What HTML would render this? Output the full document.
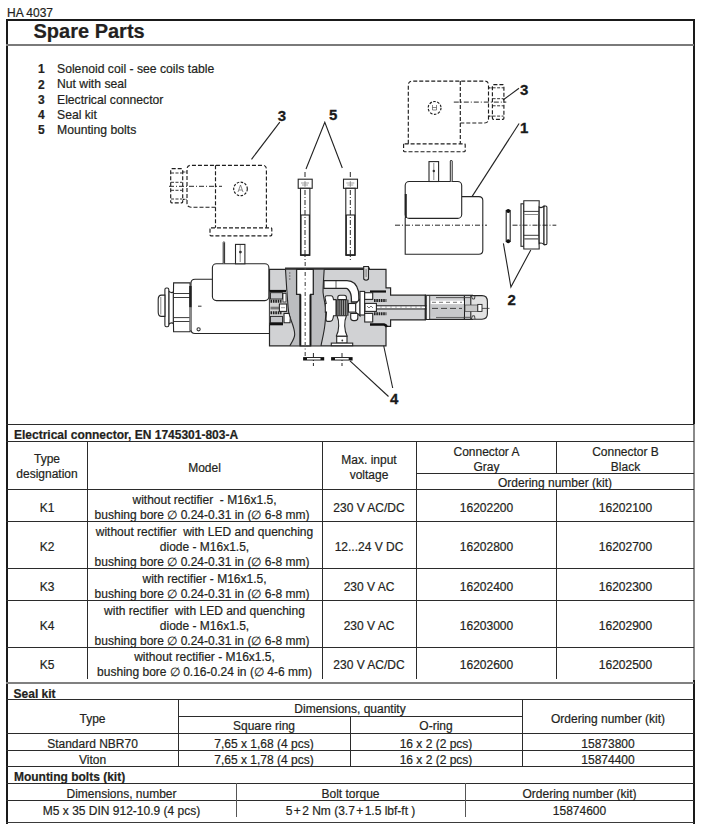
<!DOCTYPE html>
<html><head><meta charset="utf-8"><style>
html,body{margin:0;padding:0;background:#fff;}
body{width:701px;height:824px;position:relative;overflow:hidden;font-family:"Liberation Sans",sans-serif;color:#231f20;}
.t{position:absolute;line-height:16px;white-space:nowrap;text-align:center;-webkit-text-stroke:0.2px #231f20;}
.l{position:absolute;}
svg{position:absolute;left:0;top:0;}
</style></head><body>
<svg width="701" height="824" viewBox="0 0 701 824" style="position:absolute;left:0;top:0">
<defs>
<style>
.o{fill:none;stroke:#262626;stroke-width:1.1}
.w{fill:#fff;stroke:#262626;stroke-width:1.1}
.g{fill:#d1d2d4;stroke:#262626;stroke-width:1.2}
.gd{fill:#bcbdc0;stroke:none}
.d{fill:none;stroke:#1e1e1e;stroke-width:1.15;stroke-dasharray:4 2}
.dd{fill:none;stroke:#262626;stroke-width:1;stroke-dasharray:5 2 1 2}
.lead{fill:none;stroke:#222;stroke-width:1.1}
.lb{font-family:"Liberation Sans",sans-serif;font-weight:bold;font-size:15px;fill:#1a1a1a;stroke:#1a1a1a;stroke-width:0.3}
</style>
</defs>
<!-- labels -->
<text class="lb" x="277.8" y="120.8">3</text>
<text class="lb" x="329" y="120.4">5</text>
<text class="lb" x="520" y="95.3">3</text>
<text class="lb" x="520" y="133.1">1</text>
<text class="lb" x="507.5" y="305.2">2</text>
<text class="lb" x="390" y="404.2">4</text>
<!-- leaders -->
<path class="lead" d="M279.8,122.2 L251.5,159.3"/>
<path class="lead" d="M306,169 L324.8,122.3 L342.3,168"/>
<path class="lead" d="M503,100 L519,88.2"/>
<path class="lead" d="M519.1,123.5 L472,196.6"/>
<path class="lead" d="M503.4,243.4 L510.9,287 L530.8,249.9"/>
<path class="lead" d="M350,360.9 L388.5,396.5"/>
<path class="lead" d="M379.5,326 L392.7,388"/>

<!-- left dashed connector -->
<path class="d" d="M215.5,207.2 H191 Q187,207.2 187,203.2 V169.3 Q187,165.3 191,165.3 H262.4 Q266.4,165.3 266.4,169.3 V227.8"/>
<path class="d" d="M215.5,165.3 V227.8"/>
<rect class="d" x="210" y="227.8" width="61.8" height="8" rx="1"/>
<circle class="d" cx="240.5" cy="188.9" r="6.8" style="stroke-dasharray:2.5 1.5"/>
<path d="M238,192 L240.5,185 L243,192 M239,190 H242" fill="none" stroke="#555" stroke-width="0.7"/>
<path class="dd" d="M169,186.3 H222"/>
<rect class="d" x="170.7" y="168.6" width="12" height="34.2" rx="1"/>
<path class="d" d="M182.7,172 H186.5 M182.7,199.4 H186.5" style="stroke-dasharray:2 1"/>
<path class="d" d="M171,173 H182 M171,182.3 H182 M171,190.3 H182 M171,199 H182" style="stroke-width:0.9;stroke-dasharray:3 1.5"/>

<!-- right dashed connector -->
<path class="d" d="M460.3,123 H484.5 Q488.5,123 488.5,119 V85.1 Q488.5,81.1 484.5,81.1 H412.3 Q408.3,81.1 408.3,85.1 V143.8"/>
<path class="d" d="M460.3,81.1 V143.8"/>
<rect class="d" x="403.6" y="143.8" width="61.6" height="7.9" rx="1"/>
<circle class="d" cx="434.6" cy="107.9" r="6.4" style="stroke-dasharray:2.5 1.5"/>
<path d="M432.5,105 V110 H436.5 V105 M432.5,107.5 H436.5" fill="none" stroke="#555" stroke-width="0.7"/>
<path class="dd" d="M453.8,102.1 H506.3"/>
<rect class="d" x="492.4" y="84.6" width="11.5" height="34.7" rx="1"/>
<path class="d" d="M488.5,87.8 H492.4 M488.5,116.1 H492.4" style="stroke-dasharray:2 1"/>
<path class="d" d="M492.6,87.8 H503.6 M492.6,98.7 H503.6 M492.6,105.8 H503.6 M492.6,116.1 H503.6" style="stroke-width:0.9;stroke-dasharray:3 1.5"/>

<!-- bolts -->
<g id="bolt1">
<path class="dd" d="M305,172 V260"/>
<rect class="w" x="298.2" y="179.2" width="14" height="9.1"/>
<path d="M301,183 H309 M302,185 H308 M305,181 V187" stroke="#666" stroke-width="0.6" fill="none"/>
<rect class="w" x="300.5" y="188.3" width="9.4" height="67"/>
<path d="M300.5,215 H309.9" stroke="#262626" stroke-width="1.1"/>
<path d="M301,215 V255 M309.4,215 V255" stroke="#262626" stroke-width="1.2"/><path d="M300.5,255 H309.9" stroke="#222" stroke-width="1.6"/>
<path class="dd" d="M305,190 V255"/>
</g>
<g transform="translate(45.3,0)">
<path class="dd" d="M305,172 V260"/>
<rect class="w" x="298.2" y="179.2" width="14" height="9.1"/>
<path d="M301,183 H309 M302,185 H308 M305,181 V187" stroke="#666" stroke-width="0.6" fill="none"/>
<rect class="w" x="300.5" y="188.3" width="9.4" height="67"/>
<path d="M300.5,215 H309.9" stroke="#262626" stroke-width="1.1"/>
<path d="M301,215 V255 M309.4,215 V255" stroke="#262626" stroke-width="1.2"/><path d="M300.5,255 H309.9" stroke="#222" stroke-width="1.6"/>
<path class="dd" d="M305,190 V255"/>
</g>

<!-- coil 1 (right) -->
<path class="o" d="M461.7,196.6 H478.8 Q482.8,196.6 482.8,200.6 V250.3 Q482.8,254.3 478.8,254.3 H405.2 V218"/>
<rect class="w" x="405.2" y="181.5" width="56.5" height="36.9" rx="4"/>
<path d="M405.8,194 V218" stroke="#222" stroke-width="2"/>
<rect class="w" x="429" y="161.6" width="9.6" height="19.9"/>
<path d="M433.8,163 V180" stroke="#555" stroke-width="0.7" fill="none"/>
<circle cx="433.8" cy="171" r="1.2" fill="#333"/>
<path d="M450.3,181.5 V161 Q451.2,159 452.2,161 V181.5" fill="#fff" stroke="#262626" stroke-width="1"/>
<path class="dd" d="M395,225.2 H487"/>
<!-- O-ring -->
<rect x="506.2" y="210.5" width="4" height="31" fill="#fff" stroke="#262626" stroke-width="1.1"/>
<circle cx="508.2" cy="211" r="2" fill="#111"/>
<circle cx="508.2" cy="241.3" r="2" fill="#111"/>
<!-- nut -->
<rect class="w" x="521" y="203.8" width="2.8" height="42.5"/>
<path class="w" d="M523.8,200.8 H539.2 Q538.2,225 539.2,249 H523.8 Z"/>
<path d="M523.8,211.4 H539 M523.8,214.5 H539 M523.8,235.3 H539 M523.8,238.8 H539" stroke="#262626" stroke-width="0.9"/>
<path d="M523.8,214.5 H539 M523.8,238.8 H539" stroke="#888" stroke-width="1.2"/>
<path class="w" d="M539.2,207 Q541.5,208.5 544,206 V244.6 Q541.5,242 539.2,243.5 Z"/>
<rect class="w" x="544" y="206" width="2.9" height="38.6" rx="1.2"/>
<path class="dd" d="M512.5,225.2 H556.3"/>
<!-- main valve: solenoid coil left -->
<path class="w" d="M269,333.5 H195 Q191,333.5 191,329.5 V283.2 Q191,279.2 195,279.2 H213"/>
<rect class="w" x="212.4" y="263.8" width="56.5" height="36.8" rx="4"/>
<path d="M223.2,263.8 V242.5 Q223.9,240.8 224.6,242.5 V263.8" fill="#fff" stroke="#262626" stroke-width="1"/>
<rect class="w" x="235.5" y="244.4" width="9.4" height="19.4"/>
<path d="M240.2,245 V262" stroke="#555" stroke-width="0.7"/>
<circle cx="240.4" cy="252.1" r="1.4" fill="#333"/>
<path d="M198,306.2 H201.5" stroke="#333" stroke-width="1"/>
<circle cx="198.6" cy="329.3" r="1.6" fill="none" stroke="#333" stroke-width="1.1"/>
<!-- nut left -->
<path class="w" d="M173.6,282.9 H190.1 V331.8 H173.6 Q172.8,307 173.6,282.9 Z"/>
<path d="M173.3,293.5 H190 M173.3,297.5 H190 M173.3,317.6 H190 M173.3,321.5 H190" stroke="#262626" stroke-width="0.9"/>
<path d="M190.4,286 V307.3" stroke="#222" stroke-width="2.4"/>
<path d="M190.4,307.3 V330" stroke="#888" stroke-width="2"/>
<path class="w" d="M168.8,291 Q171,293.5 173.3,292 V323.5 Q171,322 168.8,324.5 Z"/>
<rect class="w" x="164.9" y="288" width="3.9" height="38.7" rx="1.5"/>
<path class="w" d="M164.9,295.1 H161.5 Q158.2,295.1 158.2,299.5 V312 Q158.2,316.4 161.5,316.4 H164.9 Z"/>
<path d="M160.8,297 V314.5" stroke="#555" stroke-width="0.7"/>
<!-- body -->
<path class="g" d="M269.5,269.3 H386 V287.8 H390.6 V295.2 H425.4 V319.9 H390.6 V326.4 H386 V345.8 H269.5 Z"/>
<path d="M285,268.3 H370" stroke="#333" stroke-width="1.8"/>
<!-- darker bands -->
<path class="gd" d="M285.5,269.8 C286.5,285 287.2,300 288.7,312.4 C290,320 294.5,326 294.7,334.2 C294.8,338 292,342 289.8,345.3 H300.3 V294.4 H296.8 V269.8 Z"/>
<path class="gd" d="M313.5,269.8 H324.2 C323.5,280 322.8,290 323.1,292.8 C323.8,300 326,306 325.9,311.3 C325.8,318 325.2,322 324.8,325.5 C324,333 322,340 321,345.3 H310.5 V294.4 H313.5 Z"/>
<path class="o" d="M285.5,269.3 C286.5,285 287.2,300 288.7,312.4 C290,320 294.5,326 294.7,334.2 C294.8,338 292,342 289.8,345.8"/>
<path class="o" d="M324.2,269.3 C323.5,280 322.8,290 323.1,292.8 C323.8,300 326,306 325.9,311.3 C325.8,318 325.2,322 324.8,325.5 C324,333 322,340 321,345.8"/>
<path d="M289.8,272 V280" stroke="#777" stroke-width="1" stroke-dasharray="2 1"/>
<!-- bolt hole -->
<path class="w" d="M296.6,269.3 V294.4 H300.2 V345.8 H310.6 V294.4 H313.3 V269.3 Z" style="stroke-width:1.3"/>
<path d="M300.4,294.4 V345.5 M310.4,294.4 V345.5" stroke="#1a1a1a" stroke-width="1.8"/>
<path class="dd" d="M305.2,262 V356" style="stroke:#555;stroke-width:1.2;stroke-dasharray:4 2.5 1 2.5"/>
<!-- left spring chamber -->
<rect x="269.8" y="291" width="16.5" height="34" fill="#d2d2d2"/>
<path d="M269.5,291.1 H286" stroke="#111" stroke-width="2.4"/>
<path d="M269.5,324 H283" stroke="#111" stroke-width="2.6"/>
<rect x="270.5" y="292.7" width="12" height="6.3" fill="#c4c5c8" stroke="#222" stroke-width="0.9"/>
<rect x="270.5" y="316.4" width="12" height="6.3" fill="#c4c5c8" stroke="#222" stroke-width="0.9"/>
<path d="M270.5,301.3 H281.5 M270.5,312.8 H281.5" stroke="#1e1e1e" stroke-width="3" stroke-dasharray="1.6 0.8"/>
<rect x="270.5" y="306.7" width="9" height="2.7" fill="#777"/>
<rect class="w" x="279.4" y="304" width="7.3" height="7.4"/>
<path d="M281,307.7 H285" stroke="#888" stroke-width="0.8"/>
<rect class="w" x="283" y="293.4" width="3" height="8.6" style="stroke-width:0.8"/>
<path class="w" d="M284,313.4 H289 Q291,318 290,322.7 H284 Z"/>
<!-- passage -->
<path class="w" d="M323.9,280.7 H347 Q356,280.7 358.5,291.4 Q359,296 358.9,302 H351.4 V299.3 Q351.4,293.5 349,290.5 Q347.5,288.4 346.4,288.4 H323.9 Z" style="stroke-width:1.3"/>
<path d="M336,281 V288" stroke="#333" stroke-width="0.8"/>
<!-- spool area -->
<path class="w" d="M325,297.5 Q325,295.7 327,295.7 H331 Q333,295.7 333.5,299.6 H336 V315.7 H333.5 Q333,321.4 330,321.4 H327.5 Q326,321.4 326,319 L326.5,312.1 H325.3 V303.5 H326.2 Z"/>
<rect x="336" y="299.6" width="12.5" height="16.1" fill="#333"/>
<path d="M338,300 V315.3 M340.2,300 V315.3 M342.4,300 V315.3 M344.6,300 V315.3 M346.8,300 V315.3" stroke="#bbb" stroke-width="0.8"/>
<path class="w" d="M337.8,299.6 V297.5 Q337.8,295.3 340,295.3 H344.2 Q346.4,295.3 346.4,297.5 V299.6 Z"/>
<rect class="w" x="348.5" y="303.5" width="7.2" height="8.6"/>
<path class="w" d="M355.7,303.5 L360,299 V316 L355.7,312.1 Z"/>
<rect class="w" x="360" y="291.4" width="4.6" height="23.6"/>
<path class="w" d="M350.7,313.5 H357.8 V318 Q357.8,320.6 355,320.6 H353.5 Q350.7,320.6 350.7,318 Z"/>
<!-- stem -->
<path class="w" d="M337,315.7 H346.4 Q344.5,320 344.7,326 Q345,332 347,335.7 V336.3 H336.4 V335.7 Q338.5,332 338.7,326 Q339,320 337,315.7 Z"/>
<rect class="w" x="336.7" y="336.3" width="10.3" height="6.8"/>
<circle cx="342.3" cy="340.5" r="0.9" fill="#333"/>
<rect class="w" x="331.3" y="343.1" width="21.4" height="2.6"/>
<!-- screw top right -->
<path d="M363.7,266.5 H368.5 V279 Q366.1,281.5 363.7,279 Z" fill="#d8d8d8" stroke="#262626" stroke-width="1.1"/>
<path d="M366.1,269 V277" stroke="#777" stroke-width="1"/>
<!-- right chamber -->
<path d="M370,291.5 H386" stroke="#111" stroke-width="2.2"/>
<path d="M370,324.5 H384 Q386,325 387,327" stroke="#111" stroke-width="2.4" fill="none"/>
<rect class="w" x="364.7" y="292.7" width="8" height="6.7"/>
<rect class="w" x="364.7" y="313.4" width="8" height="8.6"/>
<rect class="w" x="365" y="303.4" width="11.4" height="8"/>
<path d="M367,306 L369,308 L371,306 L373,308" stroke="#555" stroke-width="0.8" fill="none"/>
<path d="M374,300.5 H386.4 M374,313.8 H386.4" stroke="#222" stroke-width="3" stroke-dasharray="1.6 0.7"/>
<!-- tube -->
<rect class="g" x="425.4" y="295.3" width="47" height="24.1"/>
<path d="M470.8,295.6 H482 Q487.4,295.6 487.4,301.5 V313.5 Q487.4,319.2 482,319.2 H470.8 Z" fill="#e2e2e2" stroke="#262626" stroke-width="1.1"/>
<path d="M464.4,296 V319" stroke="#1e1e1e" stroke-width="1.2"/>
<path d="M436,297.6 H470.3 M436,317.3 H470.3" stroke="#444" stroke-width="0.9"/>
<path d="M376.4,305.8 H427 M376.4,309 H427" stroke="#222" stroke-width="1.1"/>
<path d="M377,307.4 H427" stroke="#fff" stroke-width="1.4" stroke-dasharray="3 2"/>
<rect x="430.7" y="300.7" width="33.2" height="3.3" fill="#fff"/>
<path d="M432,302.3 H462" stroke="#666" stroke-width="0.9" stroke-dasharray="4 3"/>
<rect x="430.7" y="304.4" width="33.2" height="12.3" fill="#c8c9cb"/>
<path d="M432,308.4 H462" stroke="#333" stroke-width="0.9" stroke-dasharray="6 3"/>
<path d="M428,296 V319" stroke="#f4f4f4" stroke-width="2.4"/>
<path d="M426.4,296 V319 M429.7,296 V319" stroke="#333" stroke-width="0.9"/>
<rect x="465" y="305" width="12.8" height="6.4" fill="#c8c8c8" stroke="#444" stroke-width="0.7"/>
<rect x="477.8" y="304.4" width="4.2" height="7" fill="#fff" stroke="#222" stroke-width="0.9"/>
<path d="M482,308.4 H489.5" stroke="#333" stroke-width="0.8"/>
<path d="M471.3,295.8 L472.5,299 H474.5 L475,295.8 M471.3,319 L472.5,315.8 H474.5 L475,319" stroke="#333" stroke-width="0.9" fill="none"/>
<!-- seals -->
<rect x="303.1" y="357.1" width="21.1" height="3.4" fill="#111"/>
<rect x="307" y="358" width="13.5" height="1.6" fill="#fff"/>
<rect x="331.1" y="357.1" width="21.5" height="3.4" fill="#111"/>
<rect x="335" y="358" width="13.7" height="1.6" fill="#fff"/>
<path class="dd" d="M313.4,353 V366 M342,353 V366"/>
</svg>

<div class="l" style="left:6px;top:19px;width:689px;height:2px;background:#1a1a1a"></div>
<div class="l" style="left:6px;top:19px;width:2px;height:805px;background:#1a1a1a"></div>
<div class="l" style="left:693px;top:19px;width:2px;height:405px;background:#1a1a1a"></div>
<div class="l" style="left:693px;top:424px;width:2px;height:256px;background:#8a8a8a"></div>
<div class="l" style="left:693px;top:680px;width:2px;height:144px;background:#1a1a1a"></div>
<div class="l" style="left:6px;top:44px;width:688px;height:2px;background:#7a7a7a"></div>
<div class="l" style="left:6px;top:424px;width:688px;height:1px;background:#2b2b2b"></div>
<div class="l" style="left:6px;top:441px;width:688px;height:1px;background:#2b2b2b"></div>
<div class="l" style="left:6px;top:489px;width:688px;height:1px;background:#2b2b2b"></div>
<div class="l" style="left:6px;top:521px;width:688px;height:1px;background:#2b2b2b"></div>
<div class="l" style="left:6px;top:568px;width:688px;height:1px;background:#2b2b2b"></div>
<div class="l" style="left:6px;top:600px;width:688px;height:1px;background:#2b2b2b"></div>
<div class="l" style="left:6px;top:647px;width:688px;height:1px;background:#2b2b2b"></div>
<div class="l" style="left:416px;top:473px;width:278px;height:1px;background:#2b2b2b"></div>
<div class="l" style="left:6px;top:682px;width:688px;height:2px;background:#808080"></div>
<div class="l" style="left:6px;top:699px;width:688px;height:1px;background:#2b2b2b"></div>
<div class="l" style="left:6px;top:733px;width:688px;height:1px;background:#2b2b2b"></div>
<div class="l" style="left:6px;top:750px;width:688px;height:1px;background:#2b2b2b"></div>
<div class="l" style="left:6px;top:766px;width:688px;height:1px;background:#2b2b2b"></div>
<div class="l" style="left:6px;top:783px;width:688px;height:1px;background:#2b2b2b"></div>
<div class="l" style="left:6px;top:800px;width:688px;height:1px;background:#2b2b2b"></div>
<div class="l" style="left:178px;top:716px;width:344px;height:1px;background:#2b2b2b"></div>
<div class="l" style="left:6px;top:822px;width:688px;height:1px;background:#3a3a3a"></div>
<div class="l" style="left:87px;top:441px;width:1px;height:238px;background:#2b2b2b"></div>
<div class="l" style="left:322px;top:441px;width:1px;height:238px;background:#2b2b2b"></div>
<div class="l" style="left:416px;top:441px;width:1px;height:238px;background:#2b2b2b"></div>
<div class="l" style="left:556px;top:441px;width:1px;height:32px;background:#2b2b2b"></div>
<div class="l" style="left:556px;top:489px;width:1px;height:190px;background:#2b2b2b"></div>
<div class="l" style="left:178px;top:699px;width:1px;height:67px;background:#2b2b2b"></div>
<div class="l" style="left:522px;top:699px;width:1px;height:67px;background:#2b2b2b"></div>
<div class="l" style="left:350px;top:716px;width:1px;height:50px;background:#2b2b2b"></div>
<div class="l" style="left:236px;top:783px;width:1px;height:34px;background:#555"></div>
<div class="l" style="left:465px;top:783px;width:1px;height:34px;background:#555"></div>
<div class="t" style="left:7px;top:5.04px;font-size:12px;text-align:left;">HA 4037</div>
<div class="t" style="left:33.5px;top:22.57px;font-size:20px;text-align:left;font-weight:bold;">Spare Parts</div>
<div class="t" style="left:38px;top:60.84px;font-size:12px;text-align:left;font-weight:bold;">1</div>
<div class="t" style="left:57px;top:60.77px;font-size:12.2px;text-align:left;">Solenoid coil - see coils table</div>
<div class="t" style="left:38px;top:76.54px;font-size:12px;text-align:left;font-weight:bold;">2</div>
<div class="t" style="left:57px;top:76.47px;font-size:12.2px;text-align:left;">Nut with seal</div>
<div class="t" style="left:38px;top:91.64px;font-size:12px;text-align:left;font-weight:bold;">3</div>
<div class="t" style="left:57px;top:91.57px;font-size:12.2px;text-align:left;">Electrical connector</div>
<div class="t" style="left:38px;top:107.04px;font-size:12px;text-align:left;font-weight:bold;">4</div>
<div class="t" style="left:57px;top:106.97px;font-size:12.2px;text-align:left;">Seal kit</div>
<div class="t" style="left:38px;top:122.04px;font-size:12px;text-align:left;font-weight:bold;">5</div>
<div class="t" style="left:57px;top:121.97px;font-size:12.2px;text-align:left;">Mounting bolts</div>
<div class="t" style="left:14px;top:426.64px;font-size:12px;text-align:left;font-weight:bold;">Electrical connector, EN 1745301-803-A</div>
<div class="t" style="left:7px;width:80px;top:451.34px;font-size:12px;">Type</div>
<div class="t" style="left:7px;width:80px;top:466.34px;font-size:12px;">designation</div>
<div class="t" style="left:87px;width:235px;top:460.14px;font-size:12px;">Model</div>
<div class="t" style="left:322px;width:94px;top:451.74px;font-size:12px;">Max. input</div>
<div class="t" style="left:322px;width:94px;top:466.54px;font-size:12px;">voltage</div>
<div class="t" style="left:416px;width:141px;top:444.24px;font-size:12px;">Connector A</div>
<div class="t" style="left:416px;width:141px;top:459.04px;font-size:12px;">Gray</div>
<div class="t" style="left:557px;width:137px;top:444.24px;font-size:12px;">Connector B</div>
<div class="t" style="left:557px;width:137px;top:459.04px;font-size:12px;">Black</div>
<div class="t" style="left:416px;width:278px;top:475.14px;font-size:12px;">Ordering number (kit)</div>
<div class="t" style="left:7px;width:80px;top:499.84px;font-size:12px;">K1</div>
<div class="t" style="left:87px;width:235px;top:491.84px;font-size:12px;">without rectifier&nbsp; - M16x1.5,</div>
<div class="t" style="left:84.5px;width:235.0px;top:506.84px;font-size:12px;">bushing bore &#8709; 0.24-0.31 in (&#8709; 6-8 mm)</div>
<div class="t" style="left:322px;width:94px;top:499.84px;font-size:12px;">230 V AC/DC</div>
<div class="t" style="left:416px;width:141px;top:499.84px;font-size:12px;">16202200</div>
<div class="t" style="left:557px;width:137px;top:499.84px;font-size:12px;">16202100</div>
<div class="t" style="left:7px;width:80px;top:538.84px;font-size:12px;">K2</div>
<div class="t" style="left:87px;width:235px;top:523.84px;font-size:12px;">without rectifier&nbsp; with LED and quenching</div>
<div class="t" style="left:87px;width:235px;top:538.74px;font-size:12px;">diode - M16x1.5,</div>
<div class="t" style="left:84.5px;width:235.0px;top:553.54px;font-size:12px;">bushing bore &#8709; 0.24-0.31 in (&#8709; 6-8 mm)</div>
<div class="t" style="left:322px;width:94px;top:538.84px;font-size:12px;">12...24 V DC</div>
<div class="t" style="left:416px;width:141px;top:538.84px;font-size:12px;">16202800</div>
<div class="t" style="left:557px;width:137px;top:538.84px;font-size:12px;">16202700</div>
<div class="t" style="left:7px;width:80px;top:578.74px;font-size:12px;">K3</div>
<div class="t" style="left:87px;width:235px;top:570.74px;font-size:12px;">with rectifier - M16x1.5,</div>
<div class="t" style="left:84.5px;width:235.0px;top:585.74px;font-size:12px;">bushing bore &#8709; 0.24-0.31 in (&#8709; 6-8 mm)</div>
<div class="t" style="left:322px;width:94px;top:578.74px;font-size:12px;">230 V AC</div>
<div class="t" style="left:416px;width:141px;top:578.74px;font-size:12px;">16202400</div>
<div class="t" style="left:557px;width:137px;top:578.74px;font-size:12px;">16202300</div>
<div class="t" style="left:7px;width:80px;top:617.84px;font-size:12px;">K4</div>
<div class="t" style="left:87px;width:235px;top:602.74px;font-size:12px;">with rectifier&nbsp; with LED and quenching</div>
<div class="t" style="left:87px;width:235px;top:618.14px;font-size:12px;">diode - M16x1.5,</div>
<div class="t" style="left:84.5px;width:235.0px;top:633.34px;font-size:12px;">bushing bore &#8709; 0.24-0.31 in (&#8709; 6-8 mm)</div>
<div class="t" style="left:322px;width:94px;top:617.84px;font-size:12px;">230 V AC</div>
<div class="t" style="left:416px;width:141px;top:617.84px;font-size:12px;">16203000</div>
<div class="t" style="left:557px;width:137px;top:617.84px;font-size:12px;">16202900</div>
<div class="t" style="left:7px;width:80px;top:656.74px;font-size:12px;">K5</div>
<div class="t" style="left:87px;width:235px;top:649.34px;font-size:12px;">without rectifier - M16x1.5,</div>
<div class="t" style="left:87px;width:235px;top:663.84px;font-size:12px;">bushing bore &#8709; 0.16-0.24 in (&#8709; 4-6 mm)</div>
<div class="t" style="left:322px;width:94px;top:656.74px;font-size:12px;">230 V AC/DC</div>
<div class="t" style="left:416px;width:141px;top:656.74px;font-size:12px;">16202600</div>
<div class="t" style="left:557px;width:137px;top:656.74px;font-size:12px;">16202500</div>
<div class="t" style="left:13.6px;top:685.84px;font-size:12px;text-align:left;font-weight:bold;">Seal kit</div>
<div class="t" style="left:7px;width:171px;top:710.84px;font-size:12px;">Type</div>
<div class="t" style="left:178px;width:344px;top:701.34px;font-size:12px;">Dimensions, quantity</div>
<div class="t" style="left:178px;width:172px;top:718.24px;font-size:12px;">Square ring</div>
<div class="t" style="left:350px;width:172px;top:718.24px;font-size:12px;">O-ring</div>
<div class="t" style="left:522px;width:172px;top:710.84px;font-size:12px;">Ordering number (kit)</div>
<div class="t" style="left:7px;width:171px;top:736.34px;font-size:12px;">Standard NBR70</div>
<div class="t" style="left:178px;width:172px;top:736.34px;font-size:12px;">7,65 x 1,68 (4 pcs)</div>
<div class="t" style="left:350px;width:172px;top:736.34px;font-size:12px;">16 x 2 (2 pcs)</div>
<div class="t" style="left:522px;width:172px;top:736.34px;font-size:12px;">15873800</div>
<div class="t" style="left:7px;width:171px;top:752.14px;font-size:12px;">Viton</div>
<div class="t" style="left:178px;width:172px;top:752.14px;font-size:12px;">7,65 x 1,78 (4 pcs)</div>
<div class="t" style="left:350px;width:172px;top:752.14px;font-size:12px;">16 x 2 (2 pcs)</div>
<div class="t" style="left:522px;width:172px;top:752.14px;font-size:12px;">15874400</div>
<div class="t" style="left:13.9px;top:768.64px;font-size:12px;text-align:left;font-weight:bold;">Mounting bolts (kit)</div>
<div class="t" style="left:7px;width:229px;top:786.34px;font-size:12px;">Dimensions, number</div>
<div class="t" style="left:236px;width:229px;top:786.34px;font-size:12px;">Bolt torque</div>
<div class="t" style="left:465px;width:229px;top:786.34px;font-size:12px;">Ordering number (kit)</div>
<div class="t" style="left:7px;width:229px;top:802.64px;font-size:12px;">M5 x 35 DIN 912-10.9 (4 pcs)</div>
<div class="t" style="left:236px;width:229px;top:802.64px;font-size:12px;">5<span style="margin:0 1.4px">+</span>2 Nm (3.7<span style="margin:0 1.4px">+</span>1.5 lbf-ft )</div>
<div class="t" style="left:465px;width:229px;top:802.64px;font-size:12px;">15874600</div>

</body></html>
